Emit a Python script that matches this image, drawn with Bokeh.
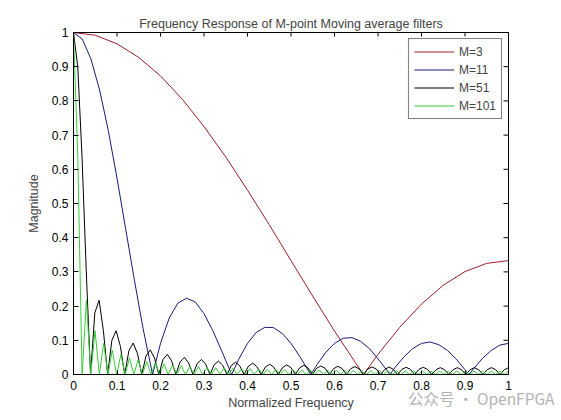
from bokeh.plotting import figure
from bokeh.models import Range1d, FixedTicker, Div
from bokeh.layouts import column
from bokeh.embed import file_html
from bokeh.resources import INLINE
import numpy as np

# ---- data (magnitude vs normalized frequency) ----
# M = 3
freq_3 = [0, 0.05, 0.1, 0.15, 0.2, 0.25, 0.3, 0.35, 0.4, 0.45, 0.5, 0.55, 0.6, 0.65,
          0.6667, 0.7, 0.75, 0.8, 0.85, 0.9, 0.95, 1.0]
mag_3 = [1.0, 0.992, 0.967, 0.927, 0.873, 0.805, 0.725, 0.636, 0.539, 0.438, 0.333,
         0.229, 0.127, 0.031, 0.0, 0.059, 0.138, 0.206, 0.261, 0.301, 0.325, 0.333]

# M = 11
freq_11 = [0, 0.02, 0.04, 0.06, 0.08, 0.10, 0.12, 0.14, 0.16, 0.1818,
           0.20, 0.22, 0.24, 0.26, 0.28, 0.30, 0.32, 0.34, 0.3636,
           0.38, 0.40, 0.42, 0.44, 0.46, 0.48, 0.50, 0.52, 0.5455,
           0.56, 0.58, 0.60, 0.62, 0.64, 0.66, 0.68, 0.70, 0.72, 0.7273,
           0.74, 0.76, 0.78, 0.80, 0.82, 0.84, 0.86, 0.88, 0.90, 0.9091,
           0.92, 0.94, 0.96, 0.98, 1.0]
mag_11 = [1.0, 0.981, 0.923, 0.832, 0.713, 0.574, 0.425, 0.276, 0.134, 0.0,
          0.091, 0.165, 0.209, 0.223, 0.212, 0.178, 0.129, 0.071, 0.0,
          0.045, 0.091, 0.123, 0.138, 0.137, 0.120, 0.091, 0.053, 0.0,
          0.029, 0.065, 0.091, 0.106, 0.108, 0.097, 0.076, 0.046, 0.013, 0.0,
          0.022, 0.052, 0.076, 0.091, 0.095, 0.087, 0.070, 0.045, 0.014, 0.0,
          0.017, 0.047, 0.070, 0.086, 0.091]

# M = 51, sampled every 1/102 of the band
freq_51 = np.arange(103) / 102
mag_51 = [1.0, 0.900, 0.637, 0.300, 0.0,
          0.180, 0.217, 0.129, 0.0, 0.100, 0.128, 0.082, 0.0,
          0.070, 0.092, 0.061, 0.0, 0.054, 0.072, 0.048, 0.0,
          0.044, 0.059, 0.040, 0.0, 0.037, 0.050, 0.034, 0.0,
          0.032, 0.044, 0.030, 0.0, 0.029, 0.039, 0.027, 0.0,
          0.026, 0.036, 0.025, 0.0, 0.024, 0.033, 0.023, 0.0,
          0.022, 0.030, 0.021, 0.0, 0.020, 0.028, 0.020, 0.0,
          0.019, 0.027, 0.019, 0.0, 0.018, 0.025, 0.018, 0.0,
          0.017, 0.024, 0.017, 0.0, 0.017, 0.023, 0.016, 0.0,
          0.016, 0.022, 0.016, 0.0, 0.015, 0.022, 0.015, 0.0,
          0.015, 0.021, 0.015, 0.0, 0.015, 0.021, 0.015, 0.0,
          0.014, 0.020, 0.014, 0.0, 0.014, 0.020, 0.014, 0.0,
          0.014, 0.020, 0.014, 0.0, 0.014, 0.020, 0.014, 0.0,
          0.014, 0.020]

# M = 101, sampled every 1/101 of the band
freq_101 = np.arange(102) / 101
mag_101 = [1.0, 0.637, 0.0,
           0.217, 0.0, 0.128, 0.0, 0.091, 0.0, 0.071, 0.0, 0.058, 0.0,
           0.049, 0.0, 0.043, 0.0, 0.038, 0.0, 0.034, 0.0, 0.031, 0.0,
           0.028, 0.0, 0.026, 0.0, 0.024, 0.0, 0.023, 0.0, 0.021, 0.0,
           0.020, 0.0, 0.019, 0.0, 0.018, 0.0, 0.017, 0.0, 0.017, 0.0,
           0.016, 0.0, 0.015, 0.0, 0.015, 0.0, 0.014, 0.0, 0.014, 0.0,
           0.013, 0.0, 0.013, 0.0, 0.013, 0.0, 0.012, 0.0, 0.012, 0.0,
           0.012, 0.0, 0.012, 0.0, 0.011, 0.0, 0.011, 0.0, 0.011, 0.0,
           0.011, 0.0, 0.011, 0.0, 0.010, 0.0, 0.010, 0.0, 0.010, 0.0,
           0.010, 0.0, 0.010, 0.0, 0.010, 0.0, 0.010, 0.0, 0.010, 0.0,
           0.010, 0.0, 0.010, 0.0, 0.010, 0.0, 0.010, 0.0, 0.010]

tick_values = [0, 0.1, 0.2, 0.3, 0.4, 0.5, 0.6, 0.7, 0.8, 0.9, 1]
tick_labels = ["0", "0.1", "0.2", "0.3", "0.4", "0.5", "0.6", "0.7", "0.8", "0.9", "1"]

series = [
    (freq_3, mag_3, "M=3", "#a01c2c"),
    (freq_11, mag_11, "M=11", "#1a1a7a"),
    (freq_51, mag_51, "M=51", "#000000"),
    (freq_101, mag_101, "M=101", "#38cc38"),
]

FONT = "Liberation Sans"

p = figure(width=561, height=412, output_backend="svg", toolbar_location=None,
           x_range=Range1d(0, 1), y_range=Range1d(0, 1),
           title="Frequency Response of M-point Moving average filters",
           x_axis_label="Normalized Frequency", y_axis_label="Magnitude",
           min_border_left=73, min_border_right=53, min_border_top=32,
           min_border_bottom=38)

p.background_fill_color = "white"
p.border_fill_color = "white"
p.outline_line_color = "black"
p.outline_line_alpha = 1.0
p.grid.visible = False

p.title.align = "center"
p.title.text_font = FONT
p.title.text_font_size = "12.5px"
p.title.text_font_style = "normal"
p.title.standoff = 4

for x, y, name, color in series:
    p.line(x, y, line_color=color, line_width=1, legend_label=name)

overrides = {t: lab for t, lab in zip(tick_values, tick_labels)}

for ax in (p.xaxis[0], p.yaxis[0]):
    ax.ticker = FixedTicker(ticks=tick_values)
    ax.major_label_overrides = overrides
    ax.minor_tick_line_color = None
    ax.major_tick_out = 0
    ax.major_label_text_font = FONT
    ax.major_label_text_font_size = "12px"
    ax.major_label_text_color = "black"
    ax.axis_label_text_font = FONT
    ax.axis_label_text_font_size = "12.5px"
    ax.axis_label_text_font_style = "normal"
    ax.axis_line_color = "black"

p.xaxis[0].major_tick_in = 4
p.yaxis[0].major_tick_in = 5
p.xaxis[0].major_label_standoff = 6
p.xaxis[0].axis_label_standoff = 3
p.yaxis[0].major_label_standoff = 5
p.yaxis[0].axis_label_standoff = 8

# mirrored inward ticks on the top and right edges (half of each dash is
# clipped away by the frame)
p.scatter(tick_values, [1] * len(tick_values), marker="dash", size=8,
          angle=np.pi / 2, line_color="black", line_width=1)
p.scatter([1] * len(tick_values), tick_values, marker="dash", size=10,
          line_color="black", line_width=1)

leg = p.legend[0]
leg.location = "top_right"
leg.margin = 6
leg.padding = 5
leg.spacing = 3
leg.glyph_width = 40
leg.glyph_height = 15
leg.label_height = 15
leg.label_standoff = 5
leg.label_text_font = FONT
leg.label_text_font_size = "12px"
leg.border_line_color = "black"
leg.border_line_width = 1
leg.background_fill_alpha = 1.0

# watermark sitting over the lower right corner of the figure
mark = Div(text="公众号 · OpenFPGA", width=140, height=22,
           margin=(-25, 0, 0, 408),
           styles={"font-family": "Noto Sans CJK SC", "font-size": "15.5px",
                   "color": "#b4b4b4", "line-height": "22px",
                   "white-space": "nowrap"})

layout = column(p, mark)

open("out.html", "w").write(file_html(layout, INLINE))
